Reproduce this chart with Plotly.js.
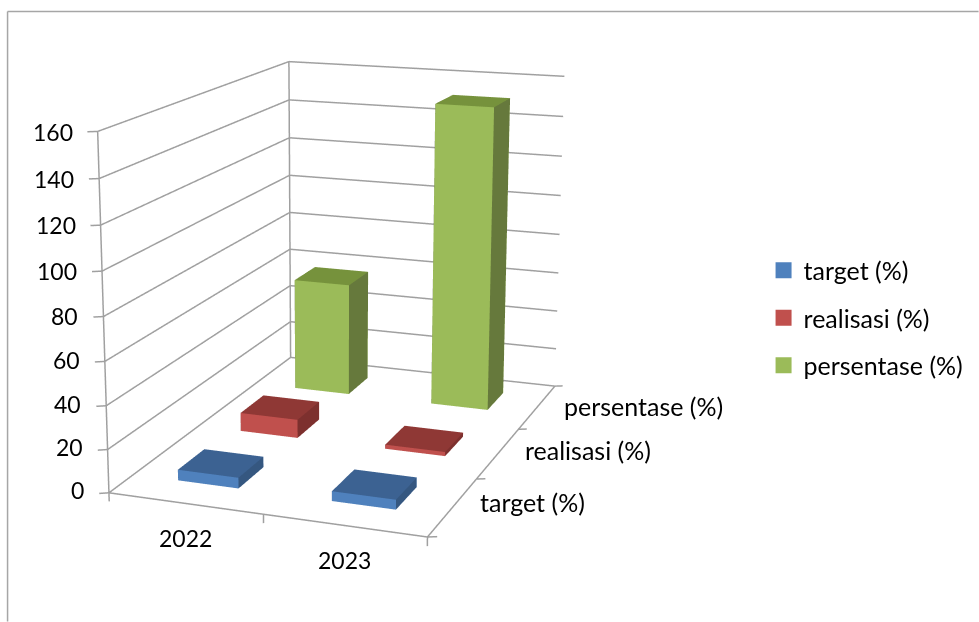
<!DOCTYPE html>
<html><head><meta charset="utf-8">
<script src="https://cdn.plot.ly/plotly-3.0.1.min.js"></script>
<style>html,body{margin:0;padding:0;background:#fff;overflow:hidden;width:979px;height:622px}#c{position:absolute}</style>
</head><body><div id="c"></div>
<script>
const years=['2022','2023'];
const seriesNames=['target (%)','realisasi (%)','persentase (%)'];
const target=[5,4.5];
const realisasi=[9,2];
const persentase=[57,151];
const zTicks=[0,20,40,60,80,100,120,140,160];

// Camera model: focal length in px, tilt, azimuth, wall box size, principal point, roll, look-at offset
const f=1926.7767,t=.2552,a=.3542,Lx=.4862,Ly=.7215,Lz=.5334,cx=333.4383,cy=279.9541,r=-.0012,px=-.0285,pz=-.0144,D=3;
// Plotly's field of view is fixed, so the plot area is made larger than the window to reach the needed focal length
const H=Math.ceil(2*f*Math.tan(Math.PI/8));
const W=Math.ceil(2*Math.max(cx,979-cx))+4;
const ox=W/2-cx, oy=H/2-cy;
const c=document.getElementById('c');c.style.left=(-ox)+'px';c.style.top=(-oy)+'px';c.style.width=W+'px';c.style.height=H+'px';
const px2x=v=>(v+ox)/W, px2y=v=>1-(v+oy)/H;

const nx=years.length,ny=seriesNames.length;
const bw=.4,bd=.4;
const shades=[['#4f81bd','#3c6292','#355780'],['#c0504d','#8f3835','#7d302e'],['#9bbb59','#76923c','#66793c']];
const values=[target,realisasi,persentase];
function bars(j){const X=[],Y=[],Z=[],I=[],J=[],K=[],FC=[];
 const yc=j*.99+.54;
 values[j].forEach((val,i)=>{const xc=i+.5,x0=xc-bw/2,x1=xc+bw/2,y0=yc-bd/2,y1=yc+bd/2,b=X.length;
  [[x0,y0,0],[x1,y0,0],[x1,y1,0],[x0,y1,0],[x0,y0,val],[x1,y0,val],[x1,y1,val],[x0,y1,val]].forEach(p=>{X.push(p[0]);Y.push(p[1]);Z.push(p[2]);});
  const faces=[[0,1,5,0],[0,5,4,0],[4,5,6,1],[4,6,7,1],[1,2,6,2],[1,6,5,2],[3,2,1,1],[3,1,0,1],[0,4,7,2],[0,7,3,2],[2,3,7,0],[2,7,6,0]];
  faces.forEach(q=>{I.push(b+q[0]);J.push(b+q[1]);K.push(b+q[2]);FC.push(shades[j][q[3]]);});
 });
 return {type:'mesh3d',x:X,y:Y,z:Z,i:I,j:J,k:K,facecolor:FC,flatshading:true,hoverinfo:'skip',name:seriesNames[j],showlegend:false,
  lighting:{ambient:1,diffuse:0,specular:0,fresnel:0,roughness:1},showscale:false};
}
function legendEntry(j){return {type:'scatter',mode:'markers',x:[null],y:[null],name:seriesNames[j],legendgroup:'g'+j,showlegend:true,
  marker:{symbol:'square',size:16,color:shades[j][0]},hoverinfo:'skip',xaxis:'x',yaxis:'y'};}
const gx=[],gy=[],gz=[];
function seg(a,b){gx.push(a[0],b[0],null);gy.push(a[1],b[1],null);gz.push(a[2],b[2],null);}
const zmax=zTicks[zTicks.length-1];
zTicks.forEach(z=>{seg([0,0,z],[0,ny,z]);seg([0,ny,z],[nx,ny,z]);seg([0,0,z],[-.05,-.03,z]);});
seg([0,0,0],[0,0,zmax]);seg([0,ny,0],[0,ny,zmax]);
seg([0,0,0],[nx,0,0]);seg([nx,0,0],[nx,ny,0]);
for(let i=0;i<=nx;i++)seg([i,0,0],[i,0,-4]);
for(let j=0;j<=ny;j++)seg([nx,j,0],[nx+.05,j+.024,0]);
const grid={type:'scatter3d',mode:'lines',x:gx,y:gy,z:gz,line:{color:'#a0a0a0',width:3},hoverinfo:'skip',showlegend:false,connectgaps:false};
const fam='Lato, sans-serif';
const numFont={size:23,family:fam,color:'#000'},txtFont={size:25,family:fam,color:'#000'};
const ann=[];
zTicks.forEach(z=>ann.push({x:0,y:0,z:z,text:String(z),showarrow:false,xanchor:'right',xshift:-23,yshift:3-z/40,font:numFont}));
years.forEach((y,i)=>ann.push({x:i+.5,y:0,z:0,text:y,showarrow:false,yshift:-35,font:numFont}));
seriesNames.forEach((n,j)=>ann.push({x:nx,y:j+.5,z:0,text:n,showarrow:false,xanchor:'left',xshift:25,yshift:5-2*j,font:txtFont}));
const border='#a6a6a6';
const layout={width:W,height:H,margin:{l:0,r:0,t:0,b:0},paper_bgcolor:'#fff',plot_bgcolor:'rgba(0,0,0,0)',
 xaxis:{visible:false,domain:[0,.01]},yaxis:{visible:false,domain:[0,.01]},
 showlegend:true,legend:{x:px2x(764),y:px2y(248),xanchor:'left',yanchor:'top',font:txtFont,tracegroupgap:12,bgcolor:'rgba(0,0,0,0)'},
 shapes:[{type:'line',xref:'paper',yref:'paper',x0:px2x(8),x1:px2x(8),y0:px2y(12),y1:px2y(622),line:{color:border,width:1.5}},
 {type:'line',xref:'paper',yref:'paper',x0:px2x(8),x1:px2x(979),y0:px2y(12),y1:px2y(12),line:{color:border,width:1.5}}],
 scene:{domain:{x:[0,1],y:[0,1]},aspectmode:'manual',aspectratio:{x:Lx*1.2,y:Ly*1.2,z:Lz*1.2},
  xaxis:{range:[-.2,nx+.2],visible:false},yaxis:{range:[-.3,ny+.3],visible:false},zaxis:{range:[-16,176],visible:false},
  camera:{projection:{type:'perspective'},center:{x:px,y:0,z:pz},
   eye:{x:px+D*Math.sin(a)*Math.cos(t),y:-D*Math.cos(a)*Math.cos(t),z:pz+D*Math.sin(t)},up:{x:Math.sin(r)*Math.cos(a),y:Math.sin(r)*Math.sin(a),z:Math.cos(r)}},
  annotations:ann}};
Plotly.newPlot('c',[grid,bars(0),bars(1),bars(2),legendEntry(0),legendEntry(1),legendEntry(2)],layout,{displayModeBar:false});
</script></body></html>
